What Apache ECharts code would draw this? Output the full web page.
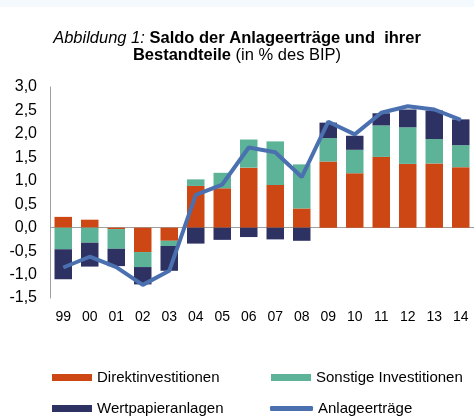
<!DOCTYPE html>
<html>
<head>
<meta charset="utf-8">
<script src="https://cdn.jsdelivr.net/npm/echarts@6/dist/echarts.min.js"></script>
<style>html,body{margin:0;padding:0;background:#fff}#c{width:474px;height:417px}</style>
</head>
<body>
<div id="c"></div>
<script>
const years = ['99','00','01','02','03','04','05','06','07','08','09','10','11','12','13','14'];
const direkt = [0.23, 0.17, -0.03, -0.52, -0.28, 0.89, 0.84, 1.28, 0.91, 0.41, 1.41, 1.16, 1.51, 1.36, 1.37, 1.29];
const sonstige = [-0.46, -0.32, -0.42, -0.32, -0.11, 0.14, 0.33, 0.60, 0.93, 0.94, 0.50, 0.50, 0.67, 0.78, 0.52, 0.47];
const wertpapier = [-0.64, -0.51, -0.37, -0.37, -0.53, -0.34, -0.26, -0.20, -0.25, -0.28, 0.33, 0.30, 0.26, 0.38, 0.61, 0.55];
const ertraege = [-0.85, -0.62, -0.84, -1.22, -0.92, 0.70, 0.92, 1.71, 1.61, 1.08, 2.26, 1.99, 2.45, 2.59, 2.52, 2.30];
const yTicks = {min: -1.5, max: 3.0, interval: 0.5};

const FONT = 'Liberation Sans, Arial, sans-serif';
const C_OR = '#CC4713', C_GR = '#5DB397', C_NV = '#2D3263', C_LN = '#4A70B0';

const chart = echarts.init(document.getElementById('c'));
const legendText = {fontFamily: FONT, fontSize: 15, color: '#000'};
const TS = 16.5, LH = 17;
chart.setOption({
  animation: false,
  graphic: [{type: 'rect', left: 0, top: 0, shape: {width: 474, height: 7}, style: {fill: '#F4F9FD'}, silent: true}],
  title: {
    left: 'center', top: 30, padding: [0, 0, 0, 10],
    text: '{i|Abbildung 1:} {b|Saldo der Anlageerträge und  ihrer}\n{b|Bestandteile} {n|(in % des BIP)}',
    textStyle: {
      fontFamily: FONT, fontSize: TS, lineHeight: LH, color: '#000', fontWeight: 'normal',
      rich: {
        i: {fontFamily: FONT, fontSize: TS, fontStyle: 'italic', fontWeight: 'normal', lineHeight: LH, color: '#000'},
        b: {fontFamily: FONT, fontSize: TS, fontWeight: 'bold', lineHeight: LH, color: '#000'},
        n: {fontFamily: FONT, fontSize: TS, fontWeight: 'normal', lineHeight: LH, color: '#000'}
      }
    }
  },
  legend: [
    {left: 52, top: 370, padding: 0, itemWidth: 40, itemHeight: 7, itemGap: 0, icon: 'rect', textStyle: legendText, data: ['Direktinvestitionen'], selectedMode: false},
    {left: 271, top: 370, padding: 0, itemWidth: 40, itemHeight: 7, itemGap: 0, icon: 'rect', textStyle: legendText, data: ['Sonstige Investitionen'], selectedMode: false},
    {left: 52, top: 401, padding: 0, itemWidth: 40, itemHeight: 7, itemGap: 0, icon: 'rect', textStyle: legendText, data: ['Wertpapieranlagen'], selectedMode: false},
    {left: 270, top: 401, padding: 0, itemWidth: 43, itemHeight: 5, itemGap: 0, icon: 'roundRect', textStyle: legendText, data: ['Anlageerträge'], selectedMode: false}
  ],
  grid: {left: 50, top: 87, width: 427, height: 211, containLabel: false},
  xAxis: {
    type: 'category', data: years,
    axisLine: {show: false, onZero: false}, axisTick: {show: false},
    axisLabel: {fontFamily: FONT, fontSize: 14, color: '#000', margin: 12, interval: 0}
  },
  yAxis: {
    type: 'value', min: yTicks.min, max: yTicks.max, interval: yTicks.interval,
    splitLine: {show: false},
    axisLine: {show: true, lineStyle: {color: '#A0A0A0', width: 1}}, axisTick: {show: false},
    axisLabel: {fontFamily: FONT, fontSize: 16, color: '#000', margin: 13,
      formatter: v => v.toFixed(1).replace('.', ',')}
  },
  series: [
    {name: 'Direktinvestitionen', type: 'bar', stack: 's', data: direkt, barWidth: '66%', itemStyle: {color: C_OR},
     markLine: {silent: true, symbol: 'none', label: {show: false}, lineStyle: {color: '#A0A0A0', type: 'solid', width: 1}, data: [{yAxis: 0}], z: 1}},
    {name: 'Sonstige Investitionen', type: 'bar', stack: 's', data: sonstige, barWidth: '66%', itemStyle: {color: C_GR}},
    {name: 'Wertpapieranlagen', type: 'bar', stack: 's', data: wertpapier, barWidth: '66%', itemStyle: {color: C_NV}},
    {name: 'Anlageerträge', type: 'line', data: ertraege, showSymbol: false, symbol: 'none',
     lineStyle: {color: C_LN, width: 4}, itemStyle: {color: C_LN}, z: 5}
  ]
});
</script>
</body>
</html>
